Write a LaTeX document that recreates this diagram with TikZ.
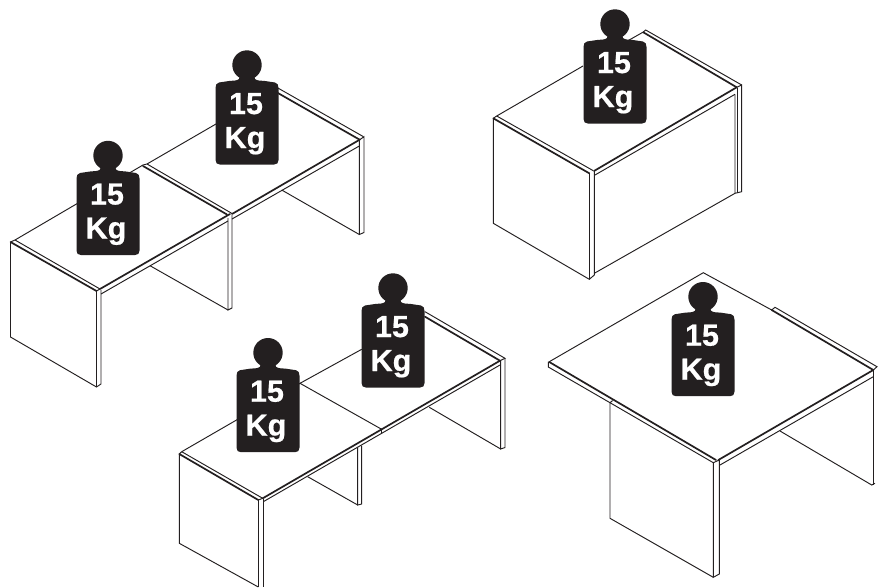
\documentclass[tikz,border=0pt]{standalone}
\usepackage{fontspec}
\setmainfont{Liberation Sans}[BoldFeatures={FakeBold=0.6}]
\definecolor{ink}{HTML}{231F20}
\tikzset{
  thin line/.style={draw=ink,line width=0.95pt,line join=miter},
  thick line/.style={draw=ink,line width=1.7pt,line cap=round},
  weight label/.style={text=white,font=\fontsize{30.5}{32}\selectfont\bfseries,inner sep=0pt,anchor=base},
  weight/.pic={
    \fill[ink] (0,0) circle (14.7);
    \fill[ink] (-7,10) -- (7,10) -- (8,14) .. controls (10,16) and (14,15.5) .. (18,16)
      -- (28,17.5) .. controls (30.5,18) and (31.5,20) .. (31.5,23)
      -- (31.5,95) .. controls (31.5,98) and (30,99.5) .. (27,99.5)
      -- (-27,99.5) .. controls (-30,99.5) and (-31.5,98) .. (-31.5,95)
      -- (-31.5,23) .. controls (-31.5,20) and (-30.5,18) .. (-28,17.5)
      -- (-18,16) .. controls (-14,15.5) and (-10,16) .. (-8,14) -- cycle;
    \node[weight label] (-num) at (-1,49) {15};
    \node[weight label] (-unit) at (-2,83) {Kg};
  }
}
\begin{document}
\begin{tikzpicture}[x=1pt,y=-1pt]
\useasboundingbox (0,0) rectangle (878,587);
\fill[white] (0,0) rectangle (878,587);

% Table pair, upper left
\draw[thin line] (15,240) -- (143,165) (147,164) -- (216,124);
\draw[thin line] (15,240) -- (100,289);
\draw[thick line] (10.5,242) -- (96.5,291);
\draw[thin line] (10.5,242) -- (15,240) (96.5,291) -- (100,289);
\draw[thick line] (100,289) -- (230,214);
\draw[thin line] (101,294) -- (228,221);
\draw[thin line] (10.5,242) -- (10.5,337) -- (96.5,387) -- (101,384) -- (101,290);
\draw[thin line] (96.5,291) -- (96.5,387);
\draw[thin line] (228,218) -- (228,310) -- (232,308) -- (232,215);
\draw[thin line] (150,265.7) -- (228,310);
\draw[thin line] (143,165) -- (147,164) -- (232,213.5);
\draw[thick line] (143,166) -- (227,214.5);
\draw[thick line] (232,214) -- (360,139.5);
\draw[thin line] (232,219) -- (359.3,146);
\draw[thin line] (277,87.5) -- (363.5,136.7);
\draw[thick line] (277,92.5) -- (359.3,139.5);
\draw[thin line] (359.3,139) -- (359.3,234.5) -- (364,232.5) -- (364,136.7) -- (360,139.5);
\draw[thin line] (281.7,190) -- (359.3,234.5);

% Cabinet, upper right
\draw[thin line] (496.7,116) -- (583,66) (628,40.7) -- (643.3,32);
\draw[thin line] (643.3,32) -- (645.7,30) -- (741.7,85);
\draw[thick line] (643.3,32.3) -- (736.7,87.3);
\draw[thin line] (496.7,116) -- (593.3,170.7);
\draw[thick line] (493.3,118.3) -- (589.3,173.3);
\draw[thin line] (493.3,118.3) -- (496.7,116);
\draw[thick line] (594,171) -- (736.7,87.3);
\draw[thin line] (595,175) -- (735,94.3);
\draw[thin line] (493.3,118.3) -- (493.3,223.3) -- (589.3,279.3) -- (594.3,275) -- (594.3,171);
\draw[thin line] (589.3,173.3) -- (589.3,279.3);
\draw[thin line] (594.3,273.3) -- (735,193.3);
\draw[thin line] (736.7,87.3) -- (741.7,85) -- (741.7,191.7) -- (735,193.3) -- (735,94.3);
\draw[thin line] (737,88) -- (737,193);

% Table pair, lower centre
\draw[thin line] (181.7,451.7) -- (300,383.3) -- (361.7,349.3);
\draw[thin line] (300,383.3) -- (381.7,429.3);
\draw[thin line] (181.7,451.7) -- (262.7,498.3);
\draw[thick line] (179.3,454) -- (258.3,500);
\draw[thin line] (179.3,454) -- (181.7,451.7) (258.3,500) -- (262.7,498.3);
\draw[thick line] (262.7,498.3) -- (381.7,429.3);
\draw[thick line] (381.7,429.3) -- (500,360.7);
\draw[thin line] (263.3,501.7) -- (381.7,433.3) -- (500,365);
\draw[thin line] (381.7,429.3) -- (381.7,433.3);
\draw[thin line] (425,311.7) -- (505,358.3) -- (500,360.7);
\draw[thick line] (425,316.7) -- (500,360.7);
\draw[thin line] (500.7,361) -- (500.7,449) -- (505,447.5) -- (505,358.3);
\draw[thin line] (429.3,407.3) -- (500.7,449);
\draw[thin line] (357.7,447.7) -- (357.7,505) -- (361.7,504) -- (361.7,445.5);
\draw[thin line] (307.7,476.7) -- (357.7,505);
\draw[thin line] (179.3,454) -- (179.3,543.3) -- (258.3,587);
\draw[thin line] (258.3,500) -- (258.3,587) (263.3,498.5) -- (263.3,587);

% Square table, lower right
\draw[thin line] (549.3,361.7) -- (703.3,272.7) -- (771.7,310);
\draw[thick line] (771.7,310) -- (873.3,370);
\draw[thin line] (771.7,310) -- (775,307.3) -- (877,366.7) -- (873.3,370);
\draw[thick line] (549.3,362) -- (716,460);
\draw[thin line] (548.3,361.7) -- (548.3,367) -- (610,402.7) -- (713.3,462.7);
\draw[thin line] (610,402.7) -- (612.7,400.5);
\draw[thin line] (713.3,462.7) -- (713.3,577.3) -- (719.3,574) -- (719.3,460) -- (713.3,462.7);
\draw[thin line] (610,402.7) -- (610,518.3) -- (713.3,577.3);
\draw[thick line] (718.3,460) -- (873.3,370);
\draw[thin line] (720,465) -- (873.3,376.7);
\draw[thin line] (873.3,370) -- (873.3,485);
\draw[thin line] (780,431) -- (871.7,485) -- (875,483.3);

% Weights
\pic (w1) at (247,65) {weight};
\pic (w2) at (108,155.5) {weight};
\pic (w3) at (615,24) {weight};
\pic (w4) at (393,288) {weight};
\pic (w5) at (268,352.7) {weight};
\pic (w6) at (703,296.7) {weight};
\end{tikzpicture}
\end{document}
